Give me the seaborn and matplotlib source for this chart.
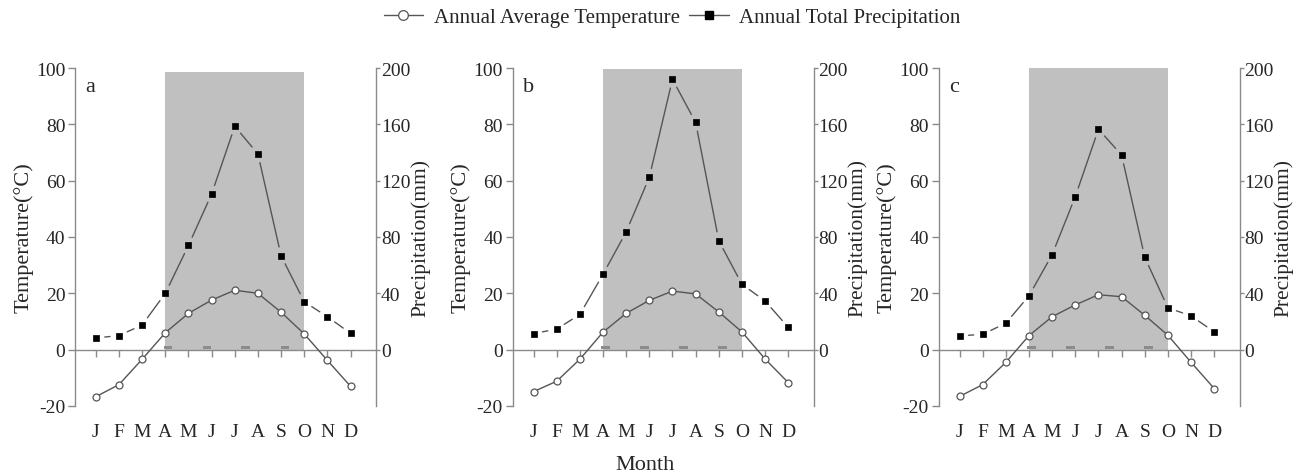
import numpy as np
import pandas as pd
import matplotlib
matplotlib.use("Agg")
import matplotlib.pyplot as plt
from matplotlib.lines import Line2D
import seaborn as sns

# ---------------- data ----------------
months = ["J", "F", "M", "A", "M", "J", "J", "A", "S", "O", "N", "D"]
month_num = list(range(1, 13))
panel_labels = ["a", "b", "c"]

temp_a = [-16.7, -12.4, -3.4, 6.0, 12.9, 17.6, 21.1, 20.0, 13.3, 5.6, -3.8, -13.0]
prec_a = [8.3, 10.0, 17.5, 40.0, 74.0, 110.5, 158.6, 139.0, 66.7, 34.0, 23.4, 11.6]
temp_b = [-14.9, -11.2, -3.4, 6.2, 12.9, 17.5, 20.8, 19.8, 13.4, 6.3, -3.3, -11.7]
prec_b = [11.4, 14.6, 25.0, 53.5, 83.6, 122.4, 192.0, 161.4, 77.4, 46.4, 34.6, 15.9]
temp_c = [-16.6, -12.4, -4.5, 5.0, 11.7, 15.9, 19.5, 18.8, 12.2, 5.1, -4.5, -13.8]
prec_c = [9.8, 10.9, 18.8, 38.3, 67.5, 108.7, 156.5, 138.2, 65.6, 29.7, 24.0, 12.6]

season_start, season_end = 4, 10
season_top = [98.5, 99.7, 100.0]
grey_marks = [4.12, 5.8, 7.48, 9.17]

temp_ticks = [-20, 0, 20, 40, 60, 80, 100]
prec_ticks = [0, 40, 80, 120, 160, 200]

# ---------------- style ----------------
sns.set_theme(style="white")
plt.rcParams["font.family"] = ["Liberation Serif", "DejaVu Serif"]

SPINE = "#8a8a8a"
LINE = "#555555"
SHADE = "#c0c0c0"

W, H = 1293, 477
fig = plt.figure(figsize=(W / 100, H / 100), dpi=100)

left_px = [75, 512.7, 938.7]
width_px = 301
top_px, bot_px = 69, 407

temps = [temp_a, temp_b, temp_c]
precs = [prec_a, prec_b, prec_c]


def gapped_line(ax, xs, ys, gap_px, **kw):
    trans = ax.transData
    inv = trans.inverted()
    pts = trans.transform(np.column_stack([xs, ys]))
    for p0, p1 in zip(pts[:-1], pts[1:]):
        d = p1 - p0
        L = np.hypot(*d)
        if L <= 2 * gap_px:
            continue
        a = p0 + d * gap_px / L
        b = p1 - d * gap_px / L
        seg = inv.transform(np.vstack([a, b]))
        ax.plot(seg[:, 0], seg[:, 1], **kw)


for i in range(3):
    ax = fig.add_axes([left_px[i] / W, 1 - bot_px / H, width_px / W, (bot_px - top_px) / H])
    ax.set_xlim(0.1, 13.1)
    ax.set_ylim(-20, 100)
    ax2 = ax.twinx()
    ax2.set_ylim(-40, 200)

    # growing season shade
    ax.fill_between([season_start, season_end], 0, season_top[i], color=SHADE, lw=0, zorder=0)
    ax.bar(grey_marks, [1.1] * len(grey_marks), width=0.38, bottom=0.15,
           color="#8c8c8c", lw=0, zorder=1)

    df = pd.DataFrame({"month": month_num, "temp": temps[i], "prec": precs[i]})

    sns.lineplot(data=df, x="month", y="temp", ax=ax, color=LINE, lw=1.0, zorder=3,
                 marker="o", markersize=5, markerfacecolor="white",
                 markeredgecolor=LINE, markeredgewidth=0.9)

    # precipitation: line with gaps around the symbols
    gapped_line(ax2, df["month"].values, df["prec"].values, 9, color=LINE, lw=1.0, zorder=3)
    sns.scatterplot(data=df, x="month", y="prec", ax=ax2, marker="s", s=22,
                    color="black", edgecolor="black", linewidth=0.5, zorder=4)

    # spines
    for sp in ["top", "right"]:
        ax.spines[sp].set_visible(False)
    ax.spines["left"].set_color(SPINE)
    ax.spines["left"].set_linewidth(1.0)
    ax.spines["bottom"].set_position(("data", 0))
    ax.spines["bottom"].set_color(SPINE)
    ax.spines["bottom"].set_linewidth(1.0)
    for sp in ["top", "left", "bottom"]:
        ax2.spines[sp].set_visible(False)
    ax2.spines["right"].set_color(SPINE)
    ax2.spines["right"].set_linewidth(1.0)

    ax.set_yticks(temp_ticks)
    ax.set_yticklabels([str(t) for t in temp_ticks])
    ax2.set_yticks(prec_ticks)
    ax2.set_yticklabels([str(t) for t in prec_ticks])
    ax.set_xticks(month_num)
    ax.set_xticklabels(months)

    ax.tick_params(axis="y", which="major", direction="out", length=5, width=1,
                   color=SPINE, labelsize=14, pad=2, left=True)
    ax.tick_params(axis="x", which="major", direction="out", length=5, width=1,
                   color=SPINE, labelsize=14, pad=48, bottom=True)
    ax2.tick_params(axis="y", which="major", direction="out", length=3, width=1,
                    color=SPINE, labelsize=14, pad=0.5, right=True)

    ax.set_xlabel("")
    ax.set_ylabel("Temperature(°C)", fontsize=16, labelpad=2)
    ax2.set_ylabel("Precipitation(mm)", fontsize=15.5, labelpad=0)
    ax.text(0.035, 0.944, panel_labels[i], transform=ax.transAxes, fontsize=16,
            ha="left", va="center")
    ax.grid(False)
    ax2.grid(False)

fig.text(645 / W, 1 - 466 / H, "Month", ha="center", va="center", fontsize=16)

handles = [
    Line2D([], [], color=LINE, lw=1.0, marker="o", markersize=7,
           markerfacecolor="white", markeredgecolor=LINE, markeredgewidth=0.9),
    Line2D([], [], color=LINE, lw=1.0, marker="s", markersize=6,
           markerfacecolor="black", markeredgecolor="black"),
]
fig.legend(handles, ["Annual Average Temperature", "Annual Total Precipitation"],
           loc="center", bbox_to_anchor=(672 / W, 1 - 18 / H), ncol=2, frameon=False,
           fontsize=15, handlelength=1.9, handletextpad=0.5, columnspacing=0.45,
           borderaxespad=0)

fig.savefig("out.png", dpi=100)
